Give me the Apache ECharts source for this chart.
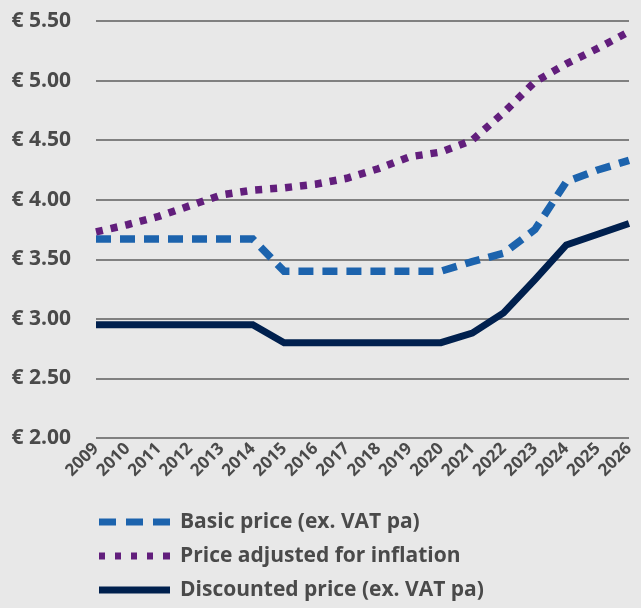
<!DOCTYPE html>
<html>
<head>
<meta charset="utf-8">
<script src="https://cdn.jsdelivr.net/npm/echarts@6/dist/echarts.min.js"></script>
<style>
  html, body { margin: 0; padding: 0; background: #e8e8e8; }
  #chart { width: 641px; height: 608px; }
</style>
</head>
<body>
<div id="chart"></div>
<script>
// years on the x axis
const years = ['2009', '2010', '2011', '2012', '2013', '2014', '2015', '2016', '2017',
  '2018', '2019', '2020', '2021', '2022', '2023', '2024', '2025', '2026']
// price series (euro)
const basicPrice = [3.67, 3.67, 3.67, 3.67, 3.67, 3.67, 3.40, 3.40, 3.40,
  3.40, 3.40, 3.40, 3.48, 3.55, 3.75, 4.15, 4.25, 4.33]
const inflationPrice = [3.73, 3.79, 3.86, 3.95, 4.04, 4.08, 4.10, 4.13, 4.18,
  4.26, 4.36, 4.40, 4.50, 4.73, 4.99, 5.14, 5.27, 5.41]
const discountedPrice = [2.95, 2.95, 2.95, 2.95, 2.95, 2.95, 2.80, 2.80, 2.80,
  2.80, 2.80, 2.80, 2.88, 3.05, 3.33, 3.62, 3.71, 3.80]
const seriesNames = ['Basic price (ex. VAT pa)', 'Price adjusted for inflation', 'Discounted price (ex. VAT pa)']

const textColor = '#4a4a4a'
const font = 'Open Sans'
const colors = ['#1c63ad', '#621e7c', '#00204e']

// legend icons drawn as paths: dashes, dots, solid bar
const legendIcons = [
  'path://M0,0h17v7h-17z M27,0h17v7h-17z M54,0h17v7h-17z',
  'path://M0,0h6v7h-6z M16,0h6v7h-6z M32,0h6v7h-6z M48,0h6v7h-6z M64,0h7v7h-7z',
  'path://M0,0h71v7h-71z',
]

const chart = echarts.init(document.getElementById('chart'))

const lineSeries = (name, data, color, type, width) => ({
  name,
  type: 'line',
  data,
  symbol: 'none',
  showSymbol: false,
  lineStyle: { color, width, type, cap: 'butt', join: 'miter' },
  itemStyle: { color },
})

chart.setOption({
  backgroundColor: '#e8e8e8',
  animation: false,
  grid: { left: 96, right: 12, top: 21, bottom: 170 },
  xAxis: {
    type: 'category',
    data: years,
    boundaryGap: false,
    axisLine: { show: false },
    axisTick: { show: false },
    axisLabel: {
      rotate: 45,
      interval: 0,
      margin: 8,
      color: textColor,
      fontFamily: font,
      fontWeight: 'bold',
      fontSize: 17,
    },
  },
  yAxis: {
    type: 'value',
    min: 2,
    max: 5.5,
    interval: 0.5,
    axisLine: { show: false },
    axisTick: { show: false },
    splitLine: { lineStyle: { color: '#808080', width: 2 } },
    axisLabel: {
      margin: 25,
      color: textColor,
      fontFamily: font,
      fontWeight: 'bold',
      fontSize: 21,
      formatter: v => '€ ' + v.toFixed(2),
    },
  },
  legend: {
    data: seriesNames.map((name, i) => ({ name, icon: legendIcons[i], itemStyle: { color: colors[i] } })),
    orient: 'vertical',
    left: 99,
    top: 511,
    height: 100,
    padding: 0,
    itemWidth: 71,
    itemHeight: 7,
    itemGap: 12,
    textStyle: {
      color: textColor, fontFamily: font, fontWeight: 'bold', fontSize: 21,
      lineHeight: 22, padding: [0, 0, 0, 5],
    },
  },
  series: [
    lineSeries(seriesNames[0], basicPrice, colors[0], [15, 9], 7.5),
    lineSeries(seriesNames[1], inflationPrice, colors[1], [7, 8], 7.5),
    lineSeries(seriesNames[2], discountedPrice, colors[2], 'solid', 7),
  ],
})
</script>
</body>
</html>
